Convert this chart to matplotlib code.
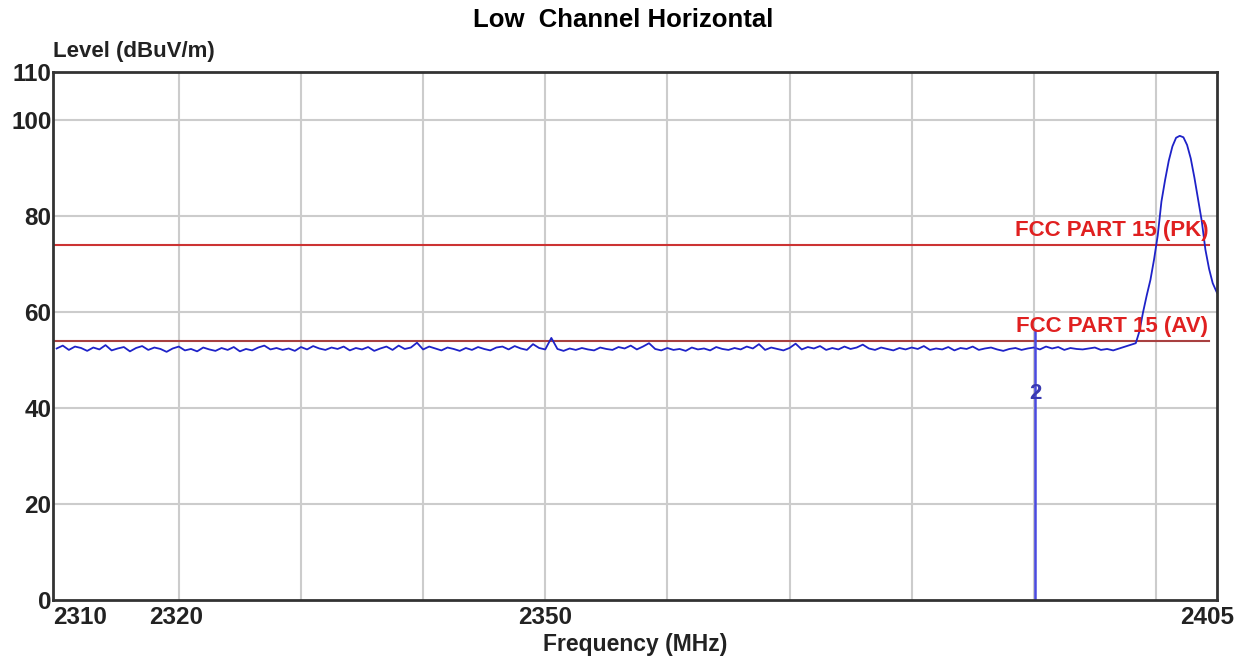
import numpy as np
import matplotlib
matplotlib.use("Agg")
import matplotlib.pyplot as plt
from matplotlib.transforms import ScaledTranslation

plt.rcParams['font.family'] = ['Liberation Sans', 'DejaVu Sans']

# ---- data ----
noise_start = 2310.0
noise_step = 0.5
noise_levels = [
    52.4, 53.0, 52.1, 52.8, 52.5, 51.9, 52.6, 52.2, 53.1, 52.0, 52.4, 52.7, 51.8, 52.5, 52.9, 52.1, 52.6, 52.3, 51.7, 52.4,
    52.8, 52.0, 52.3, 51.8, 52.6, 52.2, 51.9, 52.5, 52.1, 52.7, 51.8, 52.3, 52.0, 52.6, 53.0, 52.2, 52.5, 52.1, 52.4, 51.9,
    52.7, 52.2, 52.9, 52.4, 52.1, 52.6, 52.3, 52.8, 52.0, 52.5, 52.2, 52.7, 51.9, 52.4, 52.8, 52.1, 53.0, 52.3, 52.6, 53.6,
    52.2, 52.8, 52.4, 52.0, 52.6, 52.3, 51.9, 52.5, 52.1, 52.7, 52.3, 52.0, 52.6, 52.8, 52.2, 52.9, 52.4, 52.1, 53.3, 52.5,
    52.2, 54.6, 52.3, 51.9, 52.4, 52.1, 52.5, 52.2, 52.0, 52.6, 52.3, 52.1, 52.7, 52.4, 53.0, 52.2, 52.8, 53.5, 52.3, 52.0,
    52.5, 52.1, 52.3, 51.9, 52.6, 52.2, 52.4, 52.0, 52.7, 52.3, 52.1, 52.5, 52.2, 52.8, 52.4, 53.3, 52.1, 52.6, 52.3, 52.0,
    52.5, 53.4, 52.2, 52.7, 52.4, 52.9, 52.1, 52.5, 52.2, 52.8, 52.3, 52.6, 53.2, 52.4, 52.1, 52.6, 52.3, 52.0, 52.5, 52.2,
    52.6, 52.3, 52.9, 52.1, 52.4, 52.2, 52.7, 52.0, 52.5, 52.3, 52.8, 52.1, 52.4, 52.6, 52.2, 51.9, 52.3, 52.5, 52.1, 52.4,
    52.6, 52.2, 52.8, 52.4, 52.7, 52.1, 52.5, 52.3, 52.2, 52.4, 52.6, 52.1, 52.3, 52.0,
]
peak_freqs = [2398.35, 2398.65, 2398.95, 2399.25, 2399.55, 2399.85, 2400.15, 2400.45, 2400.75, 2401.05,
              2401.35, 2401.65, 2401.95, 2402.25, 2402.55, 2402.85, 2403.15, 2403.45, 2403.75, 2404.05,
              2404.35, 2404.65, 2405.0]
peak_levels = [53.5, 56.0, 60.0, 63.5, 66.7, 71.0, 76.0, 83.0, 87.5, 91.5,
               94.5, 96.3, 96.7, 96.4, 94.8, 92.0, 88.0, 83.5, 79.0, 73.0,
               69.0, 66.0, 64.0]

limit_pk = 74.0
limit_av = 54.0
limit_pk_label = "FCC PART 15 (PK)"
limit_av_label = "FCC PART 15 (AV)"
marker_freq = 2390.1
marker_level = 56.5
marker_label = "2"

x_tick_vals = [2310, 2320, 2350, 2405]
x_grid_vals = [2320, 2330, 2340, 2350, 2360, 2370, 2380, 2390, 2400]
y_tick_vals = [0, 20, 40, 60, 80, 100, 110]
y_grid_vals = [20, 40, 60, 80, 100]

# ---- figure ----
noise_freqs = noise_start + noise_step * np.arange(len(noise_levels))
freqs = np.concatenate([noise_freqs, peak_freqs])
levels = np.concatenate([noise_levels, peak_levels])

fig = plt.figure(figsize=(12.43, 6.58), dpi=100)
ax = fig.add_axes([53/1243, 1-600/658, (1217-53)/1243, (600-72)/658])
ax.set_xlim(2309.7, 2405)
ax.set_ylim(0, 110)

ax.set_xticks(x_tick_vals)
ax.set_xticklabels([str(v) for v in x_tick_vals])
ax.set_yticks(y_tick_vals)
ax.set_yticklabels([str(v) for v in y_tick_vals])
ax.tick_params(which='both', length=0)
ax.tick_params(axis='x', pad=4, labelsize=17.5, colors='#222222')
ax.tick_params(axis='y', pad=1, labelsize=17.5, colors='#222222')
for lab in ax.get_xticklabels() + ax.get_yticklabels():
    lab.set_fontweight('bold')
xl = ax.get_xticklabels()
xl[0].set_horizontalalignment('left')
xl[0].set_transform(xl[0].get_transform() + ScaledTranslation(-4/100, 0, fig.dpi_scale_trans))
xl[1].set_transform(xl[1].get_transform() + ScaledTranslation(-3/100, 0, fig.dpi_scale_trans))
xl[-1].set_transform(xl[-1].get_transform() + ScaledTranslation(-10/100, 0, fig.dpi_scale_trans))

ax.grid(False)
for gx in x_grid_vals:
    ax.axvline(gx, color='#cccccc', linewidth=1.5, zorder=0.5)
for gy in y_grid_vals:
    ax.axhline(gy, color='#cccccc', linewidth=1.5, zorder=0.5)
for s in ax.spines.values():
    s.set_color('#333333')
    s.set_linewidth(2)

ax.axhline(limit_pk, color='#cc3333', linewidth=1.5, xmax=0.993)
ax.axhline(limit_av, color='#a84040', linewidth=1.5, xmax=0.993)
ax.text(2404.3, limit_pk + 0.8, limit_pk_label, color='#e02020', fontsize=16,
        fontweight='bold', ha='right', va='bottom')
ax.text(2404.3, limit_av + 0.8, limit_av_label, color='#e02020', fontsize=16,
        fontweight='bold', ha='right', va='bottom')

ax.plot(freqs, levels, color='#1e22c8', linewidth=1.3)
ax.vlines(marker_freq, 0, marker_level, color='#4a4ae0', linewidth=1.8)
ax.text(marker_freq, 43, marker_label, color='#3a3ab0', fontsize=16, fontweight='bold',
        ha='center', va='center')

fig.text(53/1243, 1-52/658, "Level (dBuV/m)", fontsize=16, fontweight='bold',
         color='#222222', ha='left', va='center')
fig.text(635/1243, 1-645/658, "Frequency (MHz)", fontsize=16.5, fontweight='bold',
         color='#222222', ha='center', va='center')
fig.text(623/1243, 1-20/658, "Low  Channel Horizontal", fontsize=18.5, fontweight='bold',
         color='black', ha='center', va='center')

fig.savefig("out.png", dpi=100)
